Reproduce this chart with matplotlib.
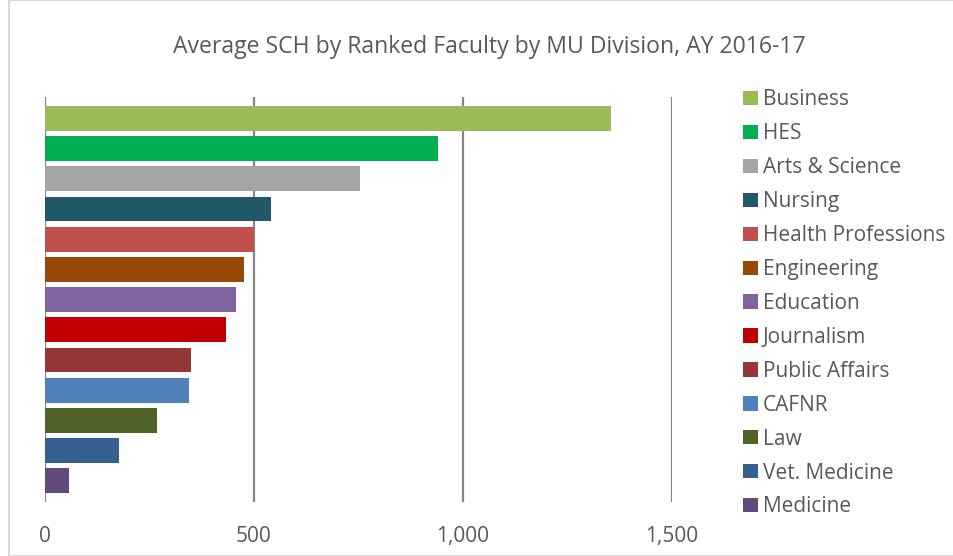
import matplotlib
matplotlib.use("Agg")
import matplotlib.pyplot as plt
from matplotlib.patches import Patch, Rectangle

# Division names, top to bottom
divisions = ['Business', 'HES', 'Arts & Science', 'Nursing', 'Health Professions',
             'Engineering', 'Education', 'Journalism', 'Public Affairs', 'CAFNR',
             'Law', 'Vet. Medicine', 'Medicine']
avg_sch = [1354, 940, 754, 541, 500, 476, 457, 433, 349, 344, 268, 177, 57]
colors = ['#9BBB59', '#00B050', '#A5A5A5', '#215968', '#C0504D', '#984807',
          '#8064A2', '#C00000', '#953735', '#4F81BD', '#4F6228', '#366092', '#604A7B']
ticks = [0, 500, 1000, 1500]
tick_labels = ['0', '500', '1,000', '1,500']

plt.rcParams['font.family'] = ['Open Sans', 'DejaVu Sans']
txt = '#595959'

fig = plt.figure(figsize=(9.54, 5.56), dpi=100)
fig.patches.append(Rectangle((9 / 954, 0), 1, 1, transform=fig.transFigure,
                             fill=False, edgecolor='#D9D9D9', linewidth=1.5))

ax = fig.add_axes([45 / 954, 1 - 502 / 556, 627 / 954, 405 / 556])
y = list(range(len(divisions)))
ax.barh(y, avg_sch, height=0.82, color=colors, zorder=3)
ax.set_ylim(12.7, -0.71)
ax.set_xlim(0, 1500)
ax.set_xticks(ticks)
ax.set_xticklabels(tick_labels, color=txt, fontsize=15)
ax.set_yticks([])
ax.tick_params(axis='x', length=0, pad=17)
ax.grid(axis='x', color='#868686', linewidth=1.6, zorder=0)
for s in ax.spines.values():
    s.set_visible(False)

fig.suptitle('Average SCH by Ranked Faculty by MU Division, AY 2016-17',
             x=489 / 954, y=1 - 47 / 556, va='center', fontsize=16.6, color=txt)

handles = [Patch(facecolor=c, edgecolor='none') for c in colors]
leg = fig.legend(handles, divisions, loc='upper left',
                 bbox_to_anchor=(733 / 954, 1 - 79 / 556), frameon=False,
                 fontsize=15, labelspacing=0.62, handlelength=0.68,
                 handleheight=0.68, handletextpad=0.24, borderpad=0)
for t in leg.get_texts():
    t.set_color(txt)

fig.savefig('out.png', dpi=100)
